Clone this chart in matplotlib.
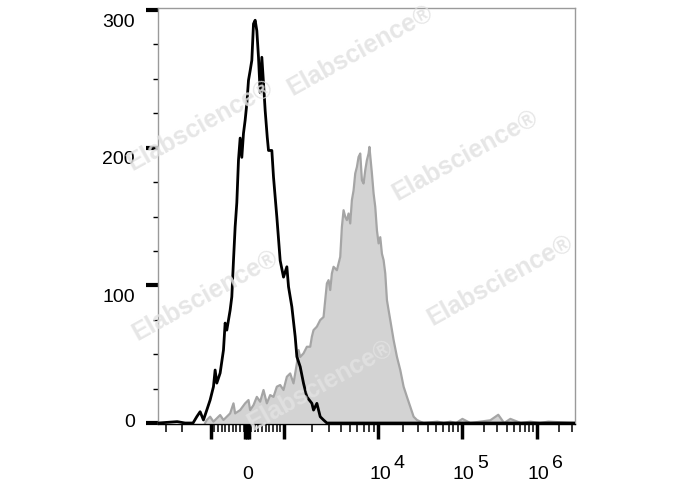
import numpy as np
import matplotlib.pyplot as plt
from matplotlib import transforms

plt.rcParams['font.family'] = ['Liberation Sans', 'DejaVu Sans']

# histogramas (eje x en canales de pantalla 0-1000)
ctrl_x = [0, 46, 65, 84, 93, 101, 109, 117, 125, 133, 137, 141, 149, 157, 161, 165,
          173, 177, 181, 185, 189, 193, 197, 201, 205, 209, 213, 217, 221, 225, 229,
          233, 237, 241, 245, 249, 253, 257, 262, 265, 273, 277, 285, 293, 301, 309,
          313, 321, 329, 333, 341, 349, 357, 369, 373, 381, 389, 397, 405, 1000]
ctrl_y = [0, 1, 0, 0, 4.6, 8.2, 2.2, 9.4, 16.7, 26.4, 38.5, 29, 36.3, 53, 72.6, 67.5,
          82, 91.7, 118, 142.5, 160, 191, 207, 193, 210.5, 220, 232, 249, 256, 263.5, 290,
          292.6, 285, 265.7, 240, 265.7, 247, 227, 207.6, 198, 198, 178.6, 149.6, 118, 106, 113.5,
          99, 84.4, 62.7, 48.2, 40.9, 28.8, 19, 14.3, 9.4, 14.3, 4.6, 2.2, 0, 0]

samp_x = [113, 117, 125, 133, 149, 157, 173, 181, 185, 197, 209, 217, 221, 229, 237,
          245, 253, 261, 269, 277, 285, 293, 301, 309, 317, 325, 333, 337, 341, 349,
          357, 365, 369, 373, 381, 389, 397, 401, 405, 409, 413, 417, 421, 429, 437,
          441, 445, 449, 453, 457, 461, 465, 469, 473, 477, 481, 485, 489, 493, 497,
          501, 505, 507, 513, 517, 521, 525, 529, 533, 537, 541, 545, 549, 553, 557,
          565, 573, 581, 589, 597, 605, 613, 621, 629, 637, 670, 685, 701, 715, 730,
          749, 797, 816, 830, 845, 870, 893, 915, 936, 1000]
samp_y = [0, 2.2, 4.6, 1, 5.8, 2.2, 7, 14.3, 7, 9.4, 14.3, 16.7, 9.4, 13, 19,
          15.5, 24, 14.3, 20.3, 19, 26.4, 27.6, 24, 33.6, 36, 28.8, 43.3, 53, 48, 50.6,
          55.4, 55.4, 62.7, 67.5, 70, 74.8, 77, 89.3, 101.4, 103.8, 96.6, 108.7, 113.5, 111, 120.7,
          142.5, 154.6, 149.8, 147.4, 152.2, 145, 162, 169, 181.3, 186, 193.3, 195.8, 176.4, 174, 183.7,
          191, 195.8, 200.6, 181.3, 166.8, 157, 140, 130.5, 135, 123, 118.3, 108.7, 89.3, 82, 74.8,
          60.3, 48.1, 38.5, 26.4, 19, 11.8, 4.6, 2.2, 1, 0, 1, 0, 1, 0, 3,
          0, 2, 6, 0, 3, 0, 1, 0, 1, 0]

# posiciones de las decadas en el eje de pantalla
dec_exp = [3, 4, 5, 6, 7]
dec_pos = [302, 528, 728, 908, 1088]
zero_pos = 214.
lin_slope = (302 - 214) / 1000.


def pos(v):
    v = np.asarray(v, dtype=float)
    a = np.abs(v)
    out = np.where(a <= 1000, zero_pos + v * lin_slope, 0.)
    lg = np.interp(np.log10(np.maximum(a, 1.)), dec_exp, dec_pos) - zero_pos
    out = np.where(a > 1000, zero_pos + np.sign(v) * lg, out)
    return out


major_v = [-1000, -50, 0, 50, 1000, 1e4, 1e5, 1e6]
minor_v = [-3000, -2000] + list(range(-900, 0, 100)) + list(range(100, 1000, 100))
for d in [1e3, 1e4, 1e5]:
    minor_v += [k * d for k in range(2, 10)]
minor_v += [2e6, 3e6]

fig = plt.figure(figsize=(6.88, 4.9), dpi=100)
ax = fig.add_axes([158 / 688, 1 - 424.4 / 490, 417 / 688, 416.4 / 490])

ax.fill_between(samp_x, samp_y, 0, color='#d3d3d3', lw=0, zorder=1)
ax.plot(samp_x, samp_y, color='#a5a5a5', lw=1.6, zorder=2)

# marca de agua
wm = [(200, 125), (360, 50), (465, 155), (500, 280), (205, 295), (320, 385)]
for (px, py) in wm:
    fig.text(px / 688, 1 - py / 490, 'Elabscience\u00ae', rotation=29, fontsize=18,
             fontweight='bold', color='#e2e2e2', alpha=0.85, ha='center', va='center',
             rotation_mode='anchor', zorder=3)

ax.plot(ctrl_x, ctrl_y, color='black', lw=2.0, zorder=4)

ax.set_xlim(0, 1000)
ax.set_ylim(-1, 301.5)

ax.set_xticks(pos(major_v))
ax.set_xticks(pos(minor_v), minor=True)
ax.set_xticklabels([])
ax.tick_params(axis='x', which='major', length=11, width=2.5, color='black')
ax.tick_params(axis='x', which='minor', length=6, width=1.1, color='black')

ax.set_yticks([0, 100, 200, 300])
ax.set_yticks(np.arange(0, 301, 25), minor=True)
ax.set_yticklabels(['0', '100', '200', '300'], fontsize=14)
ax.tick_params(axis='y', which='major', length=8.5, width=3, color='black', pad=8)
ax.tick_params(axis='y', which='minor', length=3.6, width=1, color='black')
ylab_shift = [0.03, -0.1, -0.1, -0.1]
for lab, dy in zip(ax.get_yticklabels(), ylab_shift):
    off = transforms.ScaledTranslation(0, dy, fig.dpi_scale_trans)
    lab.set_transform(lab.get_transform() + off)

for s in ['left', 'top', 'right']:
    ax.spines[s].set_color('#9a9a9a')
    ax.spines[s].set_linewidth(1.0)
ax.spines['bottom'].set_color('black')
ax.spines['bottom'].set_linewidth(1.0)

trans = transforms.blended_transform_factory(ax.transData, ax.transAxes)
ax.text(pos(0), -0.1215, '0', fontsize=14, ha='center', va='center', transform=trans)
for e in [4, 5, 6]:
    p = float(pos(10 ** e))
    ax.text(p + 5, -0.1215, '10', fontsize=14, ha='center', va='center', transform=trans)
    ax.text(p + 37, -0.093, str(e), fontsize=14, ha='left', va='center', transform=trans)

fig.savefig('out.png', dpi=100)
